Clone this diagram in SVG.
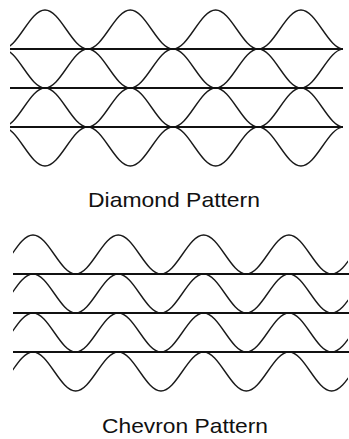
<svg xmlns="http://www.w3.org/2000/svg" xmlns:xlink="http://www.w3.org/1999/xlink" width="349" height="439" viewBox="0 0 349 439">
  <style>
    .wave { fill: none; stroke: #1a1a1a; stroke-width: 1.4; }
    .rule { stroke: #111; stroke-width: 2; }
    .label { font-family: "Liberation Sans", Arial, sans-serif; font-size: 21px; fill: #111; }
  </style>
  <defs>
    <path id="w" d="M0,0
      c 7.72,0 14.38,-9.51 21.33,-19.5 c 6.96,-9.99 13.61,-19.5 21.33,-19.5 c 7.72,0 14.38,9.51 21.33,19.5 c 6.96,9.99 13.61,19.5 21.33,19.5
      c 7.72,0 14.38,-9.51 21.33,-19.5 c 6.96,-9.99 13.61,-19.5 21.33,-19.5 c 7.72,0 14.38,9.51 21.33,19.5 c 6.96,9.99 13.61,19.5 21.33,19.5
      c 7.72,0 14.38,-9.51 21.33,-19.5 c 6.96,-9.99 13.61,-19.5 21.33,-19.5 c 7.72,0 14.38,9.51 21.33,19.5 c 6.96,9.99 13.61,19.5 21.33,19.5
      c 7.72,0 14.38,-9.51 21.33,-19.5 c 6.96,-9.99 13.61,-19.5 21.33,-19.5 c 7.72,0 14.38,9.51 21.33,19.5 c 6.96,9.99 13.61,19.5 21.33,19.5
      c 7.72,0 14.38,-9.51 21.33,-19.5 c 6.96,-9.99 13.61,-19.5 21.33,-19.5 c 7.72,0 14.38,9.51 21.33,19.5 c 6.96,9.99 13.61,19.5 21.33,19.5"/>
    <clipPath id="clipD"><rect x="10" y="0" width="332" height="180"/></clipPath>
    <clipPath id="clipC"><rect x="13" y="225" width="335" height="175"/></clipPath>
  </defs>
  <rect width="349" height="439" fill="#fff"/>

  <g id="diamond-pattern">
    <g clip-path="url(#clipD)">
      <use xlink:href="#w" class="wave" transform="translate(2.33,49)"/>
      <use xlink:href="#w" class="wave" transform="translate(2.33,49) scale(1,-1)"/>
      <use xlink:href="#w" class="wave" transform="translate(2.33,127)"/>
      <use xlink:href="#w" class="wave" transform="translate(2.33,127) scale(1,-1)"/>
    </g>
    <line class="rule" x1="10" y1="49" x2="343" y2="49"/>
    <line class="rule" x1="10" y1="88" x2="343" y2="88"/>
    <line class="rule" x1="10" y1="127" x2="343" y2="127"/>
    <text class="label" x="88" y="207" textLength="172" lengthAdjust="spacingAndGlyphs">Diamond Pattern</text>
  </g>

  <g id="chevron-pattern">
    <g clip-path="url(#clipC)">
      <use xlink:href="#w" class="wave" transform="translate(-9.67,274)"/>
      <use xlink:href="#w" class="wave" transform="translate(-9.67,313)"/>
      <use xlink:href="#w" class="wave" transform="translate(-9.67,352)"/>
      <use xlink:href="#w" class="wave" transform="translate(-9.67,391)"/>
    </g>
    <line class="rule" x1="13" y1="274" x2="349" y2="274"/>
    <line class="rule" x1="13" y1="313" x2="349" y2="313"/>
    <line class="rule" x1="13" y1="352" x2="349" y2="352"/>
    <text class="label" x="102" y="433" textLength="166" lengthAdjust="spacingAndGlyphs">Chevron Pattern</text>
  </g>
</svg>
